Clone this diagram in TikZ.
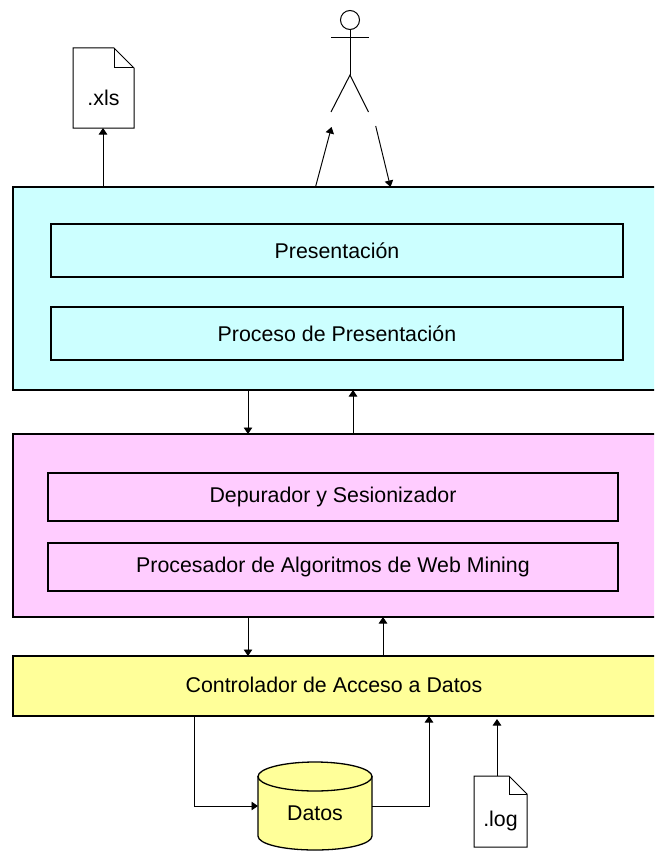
\documentclass[tikz,border=0pt]{standalone}
\usepackage{fontspec}
\setmainfont{Liberation Sans}
\usetikzlibrary{arrows.meta,calc}
\definecolor{cyanfill}{HTML}{CCFFFF}
\definecolor{pinkfill}{HTML}{FFCCFF}
\definecolor{yellowfill}{HTML}{FFFF99}
\newcommand{\labelfont}{\fontsize{21.35}{24}\selectfont}
\tikzset{
  x=1pt,y=-1pt,
  layerbox/.style={draw=black,line width=1.4pt,rectangle,anchor=north west,inner sep=0pt,outer sep=0pt},
  innerbox/.style={draw=black,line width=1.2pt,rectangle,anchor=north west,inner sep=0pt,outer sep=0pt,font=\labelfont},
  docbox/.style={rectangle,anchor=north west,inner sep=0pt,outer sep=0pt},
  plainlabel/.style={inner sep=0pt,font=\labelfont},
  conn/.style={draw=black,line width=0.95pt,-{Triangle[length=6.5pt,width=8.5pt]}},
  stick/.style={draw=black,line width=1pt},
  docline/.style={draw=black,line width=1pt,line join=miter}
}
\newcommand{\docshape}[2]{%
  \draw[docline] ($(#1.north east)+(-#2,0)$) -- (#1.north west) -- (#1.south west) -- (#1.south east) -- ($(#1.north east)+(0,#2)$) -- cycle;
  \draw[docline] ($(#1.north east)+(-#2,0)$) -- ($(#1.north east)+(-#2,#2)$) -- ($(#1.north east)+(0,#2)$);
}
\begin{document}
\begin{tikzpicture}
\useasboundingbox (0,0) rectangle (654,851);
\clip (0,0) rectangle (654,851);
% layers
\node[layerbox,fill=cyanfill,minimum width=645pt,minimum height=203pt] (cyan) at (13,187) {};
\node[layerbox,fill=pinkfill,minimum width=645pt,minimum height=183pt] (pink) at (13,434) {};
\node[layerbox,fill=yellowfill,minimum width=645pt,minimum height=60pt] (yellow) at (13,656) {};
\node[plainlabel] (acceso) at (334,685) {Controlador de Acceso a Datos};
% inner boxes
\node[innerbox,fill=cyanfill,minimum width=572pt,minimum height=53pt] (pres) at (51,224) {Presentación};
\node[innerbox,fill=cyanfill,minimum width=572pt,minimum height=53pt] (proc) at (51,307) {Proceso de Presentación};
\node[innerbox,fill=pinkfill,minimum width=570pt,minimum height=48pt] (dep) at (48,473) {Depurador y Sesionizador};
\node[innerbox,fill=pinkfill,minimum width=570pt,minimum height=48pt] (alg) at (48,543) {Procesador de Algoritmos de Web Mining};
% documents
\node[docbox,minimum width=61pt,minimum height=80pt] (xls) at (73,48) {};
\docshape{xls}{20}
\node[plainlabel] (xlstext) at (103.5,98) {.xls};
\node[docbox,minimum width=53pt,minimum height=71pt] (logdoc) at (474,776) {};
\docshape{logdoc}{18}
\node[plainlabel] (logtext) at (500.5,821) {.log};
% cylinder
\node[rectangle,inner sep=0pt,outer sep=0pt,minimum width=114pt,minimum height=88pt] (db) at (315,806) {};
\draw[line width=1.3pt,fill=yellowfill] (258,776.5) -- (258,836) .. controls (258,844) and (283,850) .. (315,850) .. controls (347,850) and (372,844) .. (372,836) -- (372,776.5) -- cycle;
\draw[line width=1.3pt,fill=yellowfill] (315,776.5) ellipse [x radius=57,y radius=14.5];
\node[plainlabel] (dbtext) at (315,813) {Datos};
% actor
\node[draw=black,circle,line width=1pt,minimum size=19pt,inner sep=0pt,outer sep=0pt] (head) at (350,20) {};
\coordinate (armL) at (331,38);
\coordinate (armR) at (368.5,38);
\coordinate (hip) at (350,75);
\coordinate (legL) at (331,112);
\coordinate (legR) at (368.5,112);
\draw[stick] (head.south) -- (hip);
\draw[stick] (armL) -- (armR);
\draw[stick] (legL) -- (hip) -- (legR);
% connector ends
\coordinate (upTip) at (331.5,127);
\coordinate (upFoot) at (315.5,187);
\coordinate (downStart) at (375.7,126);
\coordinate (downFoot) at (390.5,187);
\coordinate (xlsX) at (103,0);
\coordinate (cpDown) at (248,0);
\coordinate (cpUp) at (353,0);
\coordinate (pyDown) at (248,0);
\coordinate (pyUp) at (383,0);
\coordinate (dbIn) at (194,0);
\coordinate (dbOut) at (429,0);
\coordinate (logX) at (497,0);
% connectors
\draw[conn] (cyan.north -| xlsX) -- (xls.south -| xlsX);
\draw[conn] (upFoot) -- (upTip);
\draw[conn] (downStart) -- (downFoot);
\draw[conn] (cyan.south -| cpDown) -- (pink.north -| cpDown);
\draw[conn] (pink.north -| cpUp) -- (cyan.south -| cpUp);
\draw[conn] (pink.south -| pyDown) -- (yellow.north -| pyDown);
\draw[conn] (yellow.north -| pyUp) -- (pink.south -| pyUp);
\draw[conn] (yellow.south -| dbIn) |- (db.west);
\draw[conn] (db.east) -| (yellow.south -| dbOut);
\draw[conn] (logdoc.north -| logX) -- ++(0,-57);
\end{tikzpicture}
\end{document}
